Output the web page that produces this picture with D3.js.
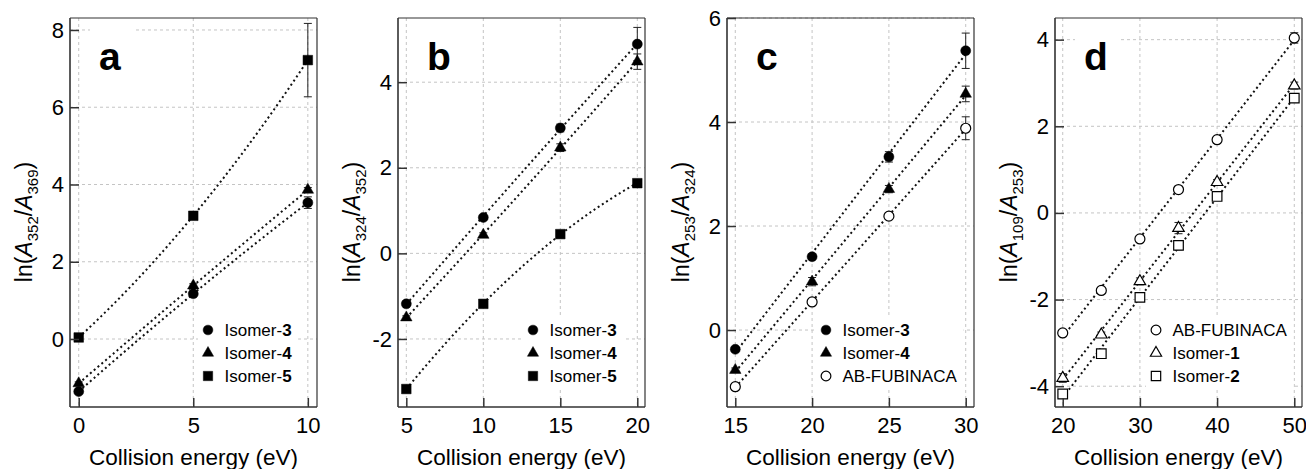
<!DOCTYPE html>
<html><head><meta charset="utf-8">
<script src="https://cdn.jsdelivr.net/npm/d3@7"></script>
<style>
body{margin:0;background:#fff;}
svg text{font-family:"Liberation Sans",Arial,Helvetica,sans-serif;fill:#000;}
</style>
</head><body>
<svg id="chart" width="1306" height="469"></svg>
<script>
// ---------------- DATA ----------------
// Panel a : ln(A352/A369)
const energyA = [0, 5, 10];
const aIsomer3 = [-1.36, 1.17, 3.53];
const aIsomer3Err = [0.04, 0.05, 0.15];
const aIsomer4 = [-1.15, 1.38, 3.86];
const aIsomer4Err = [0.04, 0.05, 0.06];
const aIsomer5 = [0.04, 3.19, 7.22];
const aIsomer5Err = [0.03, 0.05, 0.95];
const aXTicks = [0, 5, 10];
const aYTicks = [0, 2, 4, 6, 8];

// Panel b : ln(A324/A352)
const energyB = [5, 10, 15, 20];
const bIsomer3 = [-1.18, 0.84, 2.93, 4.89];
const bIsomer3Err = [0.04, 0.05, 0.09, 0.39];
const bIsomer4 = [-1.50, 0.43, 2.47, 4.48];
const bIsomer4Err = [0.04, 0.05, 0.09, 0.18];
const bIsomer5 = [-3.17, -1.18, 0.45, 1.64];
const bIsomer5Err = [0.03, 0.04, 0.05, 0.05];
const bXTicks = [5, 10, 15, 20];
const bYTicks = [-2, 0, 2, 4];

// Panel c : ln(A253/A324)
const energyC = [15, 20, 25, 30];
const cIsomer3 = [-0.37, 1.41, 3.33, 5.37];
const cIsomer3Err = [0.04, 0.05, 0.10, 0.34];
const cIsomer4 = [-0.77, 0.93, 2.71, 4.54];
const cIsomer4Err = [0.04, 0.08, 0.07, 0.15];
const cAbFubinaca = [-1.09, 0.54, 2.19, 3.88];
const cAbFubinacaErr = [0.04, 0.05, 0.06, 0.22];
const cXTicks = [15, 20, 25, 30];
const cYTicks = [0, 2, 4, 6];

// Panel d : ln(A109/A253)
const energyD = [20, 25, 30, 35, 40, 50];
const dAbFubinaca = [-2.77, -1.79, -0.60, 0.54, 1.69, 4.04];
const dAbFubinacaErr = [0.04, 0.05, 0.05, 0.05, 0.05, 0.12];
const dIsomer1 = [-3.81, -2.81, -1.58, -0.35, 0.71, 2.94];
const dIsomer1Err = [0.10, 0.06, 0.08, 0.13, 0.06, 0.08];
const dIsomer2 = [-4.18, -3.25, -1.95, -0.75, 0.38, 2.65];
const dIsomer2Err = [0.06, 0.05, 0.06, 0.10, 0.06, 0.06];
const dXTicks = [20, 30, 40, 50];
const dYTicks = [-4, -2, 0, 2, 4];

// ---------------- PANELS ----------------
const panels = [
  {id:"a", sub:["352","369"], fitDeg:2, xDomain:[-0.38,10.4], yDomain:[-1.76,8.31], xTicks:aXTicks, yTicks:aYTicks, legendDx:138,
   series:[
    {pre:"Isomer-", bold:"3", shape:"circle", open:false, x:energyA, y:aIsomer3, err:aIsomer3Err},
    {pre:"Isomer-", bold:"4", shape:"triangle", open:false, x:energyA, y:aIsomer4, err:aIsomer4Err},
    {pre:"Isomer-", bold:"5", shape:"square", open:false, x:energyA, y:aIsomer5, err:aIsomer5Err}]},
  {id:"b", sub:["324","352"], fitDeg:2, xDomain:[4.46,20.5], yDomain:[-3.59,5.5], xTicks:bXTicks, yTicks:bYTicks, legendDx:135,
   series:[
    {pre:"Isomer-", bold:"3", shape:"circle", open:false, x:energyB, y:bIsomer3, err:bIsomer3Err},
    {pre:"Isomer-", bold:"4", shape:"triangle", open:false, x:energyB, y:bIsomer4, err:bIsomer4Err},
    {pre:"Isomer-", bold:"5", shape:"square", open:false, x:energyB, y:bIsomer5, err:bIsomer5Err}]},
  {id:"c", sub:["253","324"], fitDeg:1, xDomain:[14.46,30.54], yDomain:[-1.48,6.0], xTicks:cXTicks, yTicks:cYTicks, legendDx:99,
   series:[
    {pre:"Isomer-", bold:"3", shape:"circle", open:false, x:energyC, y:cIsomer3, err:cIsomer3Err},
    {pre:"Isomer-", bold:"4", shape:"triangle", open:false, x:energyC, y:cIsomer4, err:cIsomer4Err},
    {pre:"AB-FUBINACA", bold:"", shape:"circle", open:true, x:energyC, y:cAbFubinaca, err:cAbFubinacaErr}]},
  {id:"d", sub:["109","253"], fitDeg:1, xDomain:[19.0,51.0], yDomain:[-4.48,4.5], xTicks:dXTicks, yTicks:dYTicks, legendDx:101,
   series:[
    {pre:"AB-FUBINACA", bold:"", shape:"circle", open:true, x:energyD, y:dAbFubinaca, err:dAbFubinacaErr},
    {pre:"Isomer-", bold:"1", shape:"triangle", open:true, x:energyD, y:dIsomer1, err:dIsomer1Err},
    {pre:"Isomer-", bold:"2", shape:"square", open:true, x:energyD, y:dIsomer2, err:dIsomer2Err}]}
];

// ---------------- LAYOUT ----------------
const lefts = [70, 398, 727, 1055];
const plotW = 247, plotTop = 18, plotBottom = 407;
const svg = d3.select("#chart");

function polyFit(xs, ys, deg) {
  const n = deg + 1;
  const A = Array.from({length:n}, () => new Array(n + 1).fill(0));
  xs.forEach((xv, k) => {
    for (let i = 0; i < n; i++) {
      for (let j = 0; j < n; j++) A[i][j] += Math.pow(xv, i + j);
      A[i][n] += ys[k] * Math.pow(xv, i);
    }
  });
  for (let i = 0; i < n; i++) {
    let p = i;
    for (let r = i + 1; r < n; r++) if (Math.abs(A[r][i]) > Math.abs(A[p][i])) p = r;
    [A[i], A[p]] = [A[p], A[i]];
    for (let r = 0; r < n; r++) {
      if (r === i) continue;
      const f = A[r][i] / A[i][i];
      for (let c = i; c <= n; c++) A[r][c] -= f * A[i][c];
    }
  }
  const coef = A.map((row, i) => row[n] / row[i]);
  return xv => coef.reduce((s, c, i) => s + c * Math.pow(xv, i), 0);
}

const symSize = {circle: Math.PI * 5 * 5, square: 9.6 * 9.6, triangle: Math.sqrt(3) / 4 * 11.5 * 11.5};
const symType = {circle: d3.symbolCircle, square: d3.symbolSquare, triangle: d3.symbolTriangle};

function drawMarker(g, s, cx, cy, scale) {
  g.append("path")
    .attr("d", d3.symbol().type(symType[s.shape]).size(symSize[s.shape] * (scale || 1))())
    .attr("transform", `translate(${cx},${cy})`)
    .attr("fill", s.open ? "#fff" : "#000")
    .attr("stroke", "#000")
    .attr("stroke-width", s.open ? 1.2 : 0.5);
}

const fmt = d => String(d); // hyphen-minus like the original

panels.forEach((p, pi) => {
  const left = lefts[pi], right = left + plotW;
  const x = d3.scaleLinear().domain(p.xDomain).range([left, right]);
  const y = d3.scaleLinear().domain(p.yDomain).range([plotBottom, plotTop]);
  const g = svg.append("g");

  // grid
  g.append("g").selectAll("line").data(p.xTicks).join("line")
    .attr("x1", d => x(d)).attr("x2", d => x(d)).attr("y1", plotTop).attr("y2", plotBottom)
    .attr("stroke", "#c4c4c4").attr("stroke-width", 1).attr("stroke-dasharray", "3,3");
  g.append("g").selectAll("line").data(p.yTicks).join("line")
    .attr("x1", left).attr("x2", right).attr("y1", d => y(d)).attr("y2", d => y(d))
    .attr("stroke", "#c4c4c4").attr("stroke-width", 1).attr("stroke-dasharray", "3,3");

  // panel letter with white background
  g.append("rect").attr("x", left + 20).attr("y", plotTop + 6).attr("width", 44).attr("height", 56).attr("fill", "#fff");
  g.append("text").attr("x", left + 29).attr("y", 70).attr("font-size", 39).attr("font-weight", "bold").text(p.id);

  // fit lines
  p.series.forEach(s => {
    const f = polyFit(s.x, s.y, p.fitDeg);
    const x0 = d3.min(s.x), x1 = d3.max(s.x);
    const pts = d3.range(0, 61).map(i => x0 + (x1 - x0) * i / 60);
    g.append("path").datum(pts)
      .attr("d", d3.line().x(d => x(d)).y(d => y(f(d))))
      .attr("fill", "none").attr("stroke", "#111").attr("stroke-width", 2)
      .attr("stroke-dasharray", "2,3");
  });

  // error bars
  p.series.forEach(s => {
    s.x.forEach((xv, i) => {
      const e = s.err[i];
      if (!e) return;
      const cx = x(xv), y1 = y(s.y[i] + e), y2 = y(s.y[i] - e);
      g.append("line").attr("x1", cx).attr("x2", cx).attr("y1", y1).attr("y2", y2).attr("stroke", "#222").attr("stroke-width", 1);
      [y1, y2].forEach(yy => g.append("line").attr("x1", cx - 4).attr("x2", cx + 4).attr("y1", yy).attr("y2", yy).attr("stroke", "#222").attr("stroke-width", 1));
    });
  });

  // markers
  p.series.forEach(s => {
    s.x.forEach((xv, i) => drawMarker(g, s, x(xv), y(s.y[i]), 1.0));
  });

  // frame
  g.append("line").attr("x1", left).attr("x2", right).attr("y1", plotTop).attr("y2", plotTop).attr("stroke", "#333").attr("stroke-width", 1.2);
  g.append("line").attr("x1", right).attr("x2", right).attr("y1", plotTop).attr("y2", plotBottom).attr("stroke", "#333").attr("stroke-width", 1.2);

  // axes via d3
  const xAxis = d3.axisBottom(x).tickValues(p.xTicks).tickFormat(fmt).tickSizeInner(-9).tickSizeOuter(0);
  const yAxis = d3.axisLeft(y).tickValues(p.yTicks).tickFormat(fmt).tickSizeInner(-9).tickSizeOuter(0);
  const gx = g.append("g").attr("transform", `translate(0,${plotBottom})`).call(xAxis);
  const gy = g.append("g").attr("transform", `translate(${left},0)`).call(yAxis);
  [gx, gy].forEach(ax => {
    ax.select(".domain").attr("stroke", "#333").attr("stroke-width", 1.6);
    ax.selectAll(".tick line").attr("stroke", "#333").attr("stroke-width", 1.5);
    ax.selectAll(".tick text").attr("font-size", 22).attr("fill", "#000")
      .style("font-family", '"Liberation Sans",Arial,sans-serif');
  });
  gx.selectAll(".tick text").attr("dy", "0.71em").attr("y", 10);
  gy.selectAll(".tick text").attr("x", -6);
  gy.select(".domain").attr("d", `M0,${plotTop}V${plotBottom}`);
  gx.select(".domain").attr("d", `M${left},0H${right}`);

  // x axis title
  g.append("text").attr("x", (left + right) / 2).attr("y", 465).attr("text-anchor", "middle")
    .attr("font-size", 22.5).text("Collision energy (eV)");

  // y axis title
  const yt = g.append("text").attr("transform", `translate(${left - 38},222) rotate(-90)`)
    .attr("text-anchor", "middle").attr("font-size", 23);
  yt.append("tspan").text("ln(");
  yt.append("tspan").attr("font-style", "italic").text("A");
  yt.append("tspan").attr("font-size", 15).attr("dy", 6).text(p.sub[0]);
  yt.append("tspan").attr("dy", -6).text("/");
  yt.append("tspan").attr("font-style", "italic").text("A");
  yt.append("tspan").attr("font-size", 15).attr("dy", 6).text(p.sub[1]);
  yt.append("tspan").attr("dy", -6).text(")");

  // legend
  const mx = left + p.legendDx;
  const rows = [330, 353, 376];
  const lg = g.append("g");
  const bg = lg.append("rect").attr("fill", "#fff");
  let maxEnd = 0;
  p.series.forEach((s, i) => {
    drawMarker(lg, s, mx, rows[i], 0.95);
    const t = lg.append("text").attr("x", mx + 16.5).attr("y", rows[i]).attr("dy", "0.36em").attr("font-size", 17);
    t.append("tspan").text(s.pre);
    if (s.bold) t.append("tspan").attr("font-weight", "bold").text(s.bold);
    maxEnd = Math.max(maxEnd, t.node().getBBox().x + t.node().getBBox().width);
  });
  bg.attr("x", mx - 10).attr("y", 317).attr("width", maxEnd + 6 - (mx - 10)).attr("height", 72);
});
</script>
</body></html>
